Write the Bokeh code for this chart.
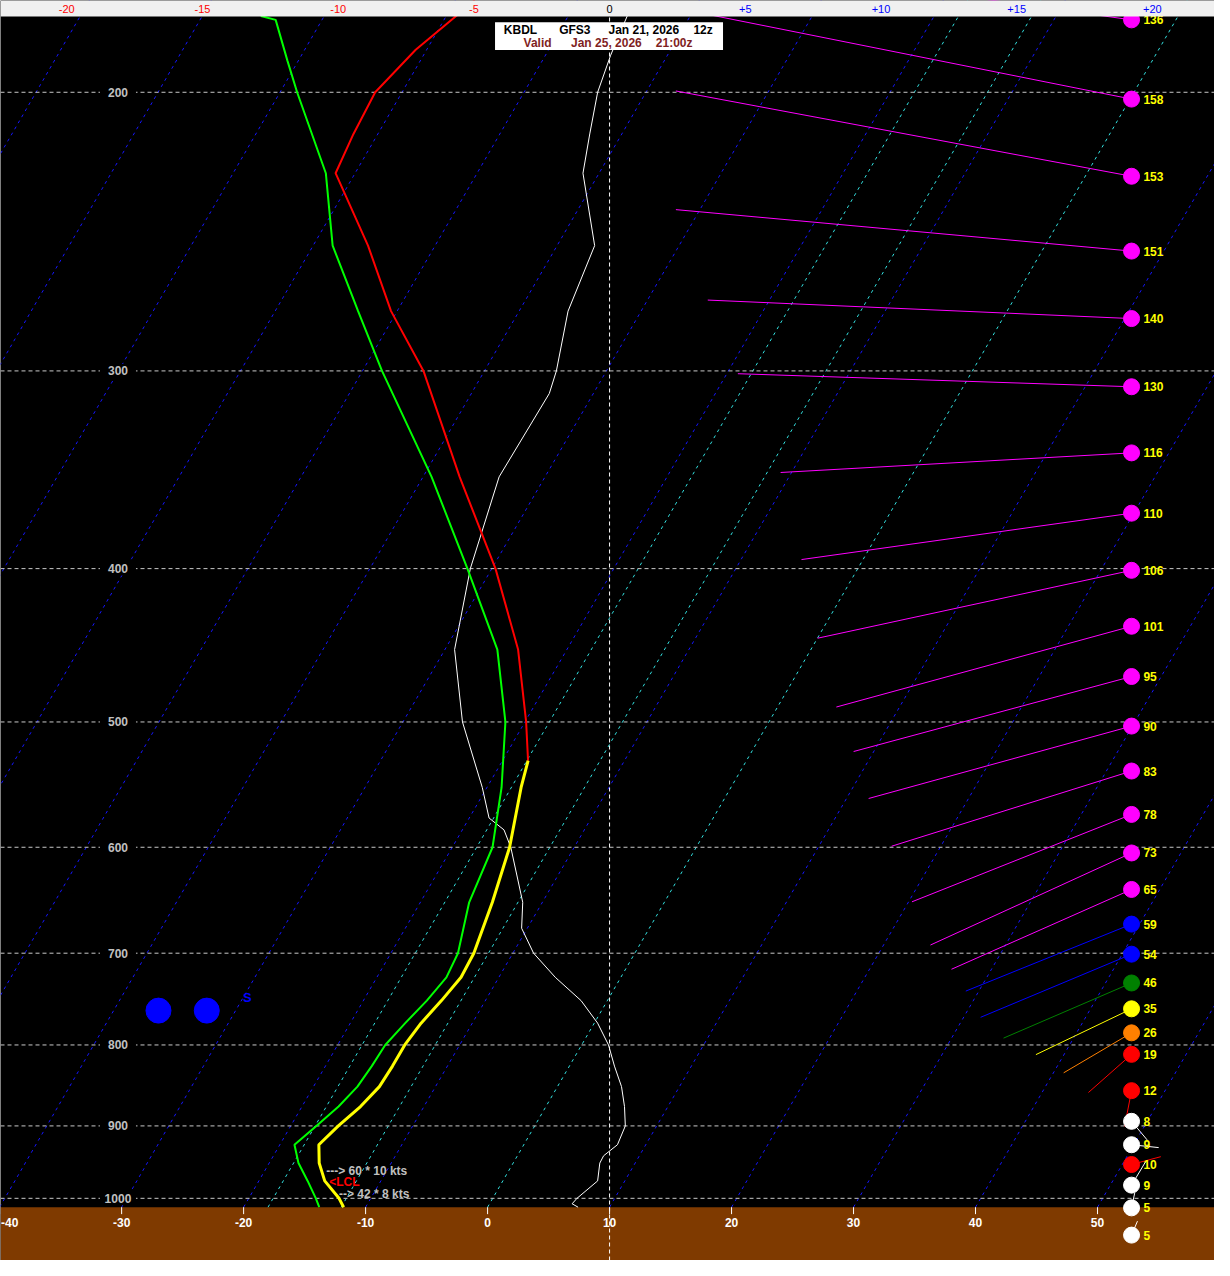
import numpy as np
from bokeh.plotting import figure
from bokeh.models import Range1d, ColumnDataSource
from bokeh.embed import file_html
from bokeh.resources import INLINE
from bokeh.core.properties import value

# ---------------- data ----------------
# temperature profile (red part, upper levels)
temp_p = [175, 188, 200, 212.5, 225, 250, 275, 300, 350, 400, 450, 500, 529]
temp_t = [-58.4, -60.9, -62.2, -62.0, -61.6, -55.5, -50.5, -45.0, -37.0, -29.7, -24.0, -19.9, -17.9]

# temperature profile (yellow part, lower levels)
low_p = [529, 550, 600, 650, 700, 725, 750, 775, 800, 825, 850, 875, 900, 925, 950, 975, 1000, 1013]
low_t = [-17.9, -17.2, -15.3, -14.1, -13.2, -13.1, -13.6, -14.2, -14.5, -14.5, -14.6, -15.2, -16.1, -16.8, -15.9, -14.6, -12.6, -11.8]

# dewpoint profile (green)
dew_p = [179, 180, 191, 200, 225, 250, 275, 300, 350, 400, 450, 500, 550, 600, 650, 700, 725, 750, 775, 800,
         825, 850, 875, 900, 925, 950, 975, 1000, 1013]
dew_t = [-75.2, -73.8, -70.9, -68.6, -62.4, -58.4, -53.2, -48.4, -39.3, -32.0, -25.7, -21.6, -18.8, -16.7, -16.0,
         -14.5, -14.3, -14.8, -15.5, -16.1, -16.2, -16.4, -17.0, -17.9, -18.8, -17.6, -16.0, -14.5, -13.8]

# white profile, in units of the top scale
wht_p = [179, 189.5, 200, 212.5, 225, 250, 275, 300, 310, 350, 400, 450, 500, 550, 575, 585, 600, 650, 675, 700,
         725, 750, 775, 800, 825, 850, 875, 900, 925, 940, 950, 975, 1000, 1008, 1013]
wht_v = [0.65, 0.04, -0.44, -0.73, -0.98, -0.55, -1.53, -1.96, -2.22, -4.07, -5.13, -5.71, -5.42, -4.69, -4.44,
         -3.89, -3.64, -3.20, -3.24, -2.80, -2.00, -1.05, -0.44, -0.04, 0.18, 0.44, 0.55, 0.58, 0.29, -0.22,
         -0.36, -0.44, -1.20, -1.38, -1.16]

# winds
wind_p = [180, 202, 226, 252, 278, 307, 338, 369, 401, 435, 468, 503, 537, 572, 605, 638, 671, 701, 731, 759,
          786, 811, 855, 894, 925, 952, 981, 1014, 1055]
wind_spd = [136, 158, 153, 151, 140, 130, 116, 110, 106, 101, 95, 90, 83, 78, 73, 65, 59, 54, 46, 35,
            26, 19, 12, 8, 9, 10, 9, 5, 5]
wind_dir = [278, 281.3, 280.6, 275.2, 272.5, 271.9, 266.8, 262.0, 257.8, 254.7, 254.9, 254.6, 252.6, 248.3,
            245.4, 246.1, 248.0, 247.3, 246.7, 244.4, 239.5, 228.5, 191, 140, 96, 75, 31, 12, 23]

pres_levels = [200, 300, 400, 500, 600, 700, 800, 900, 1000]
bottom_ticks = [-40, -30, -20, -10, 0, 10, 20, 30, 40, 50]
top_ticks = [-20, -15, -10, -5, 0, 5, 10, 15, 20]

# ---------------- geometry ----------------
SKEW = 32.66        # deg C per ln(p) unit
P0 = 1013.0
TOP_ZERO, TOP_SCALE = 10.0, 2.2249
X0, X1 = -39.93, 59.59
P_TOP, P_BOT = 175.0, 1094.7
W, H = 1214, 1260
PX_PER_KT = 3.03

def skx(t, p):
    return np.asarray(t, float) + SKEW * np.log(P0 / np.asarray(p, float))

FONT = value("Liberation Sans")

p = figure(width=W, height=H, x_range=Range1d(X0, X1), y_range=Range1d(P_BOT, P_TOP),
           y_axis_type="log", x_axis_location=None, y_axis_location=None,
           output_backend="svg", toolbar_location=None, min_border=0,
           background_fill_color="black", border_fill_color="black")
p.outline_line_color = None
p.grid.visible = False

# ground
p.quad(left=X0, right=X1, bottom=P_BOT, top=P0, fill_color="#7f3a00", line_color=None)

# isotherms
iso = list(range(-100, 60, 10)) + [-12, -18]
xs, ys, cs = [], [], []
for t in iso:
    xs.append(list(skx([t, t], [P0, P_TOP])))
    ys.append([P0, P_TOP])
    cs.append("#33e0e0" if t in (0, -12, -18) else "#1515ff")
p.multi_line(xs, ys, line_color=cs, line_width=1, line_dash="3 4")

# pressure lines
for pl in pres_levels:
    p.line([X0, X1], [pl, pl], line_color="#c8c8c8", line_width=1, line_dash="4 3")

# vertical reference line (top-scale zero)
p.line([TOP_ZERO, TOP_ZERO], [P_BOT, P_TOP], line_color="white", line_width=1, line_dash="4 3")

# pressure labels
lab_x = [-30.3] * len(pres_levels)
p.rect(lab_x, pres_levels, width=36, height=14, width_units="screen", height_units="screen",
       fill_color="black", line_color=None)
p.text(lab_x, pres_levels, text=[str(v) for v in pres_levels], text_font=FONT, text_font_style="bold",
       text_font_size="12px", text_color="#c0c0c0", text_align="center", text_baseline="middle")

# profiles
p.line(TOP_ZERO + TOP_SCALE * np.array(wht_v), wht_p, line_color="white", line_width=1)
p.line(skx(dew_t, dew_p), dew_p, line_color="#00ff00", line_width=2)
p.line(skx(temp_t, temp_p), temp_p, line_color="#ff0000", line_width=2)
p.line(skx(low_t, low_p), low_p, line_color="#ffff00", line_width=3)

# winds
def wcolor(s):
    if s >= 65: return "#ff00ff"
    if s >= 54: return "#0000ff"
    if s >= 46: return "#008000"
    if s >= 35: return "#ffff00"
    if s >= 26: return "#ff8000"
    if s >= 10: return "#ff0000"
    return "#ffffff"

WX = 52.79
wsrc = ColumnDataSource(dict(
    x=[WX] * len(wind_p), y=wind_p,
    length=[s * PX_PER_KT for s in wind_spd],
    angle=[np.pi / 2 - np.radians(d) for d in wind_dir],
    color=[wcolor(s) for s in wind_spd],
    lx=[WX + 0.97] * len(wind_p),
    lab=[str(s) for s in wind_spd]))
p.ray(x="x", y="y", length="length", angle="angle", length_units="screen",
      line_color="color", line_width=1, source=wsrc)
p.scatter(x="x", y="y", size=16, fill_color="color", line_color="color", source=wsrc)
p.text(x="lx", y="y", text="lab", source=wsrc, text_font=FONT, text_font_style="bold",
       text_font_size="12px", text_color="#ffff00", text_align="left", text_baseline="middle")

# precip markers
p.scatter([-26.98, -23.02], [761, 761], size=25, fill_color="#0000ff", line_color="#0000ff")
p.text([-19.70], [747], text=["S"], text_font=FONT, text_font_style="bold", text_font_size="13px",
       text_color="#0000ff", text_align="center", text_baseline="middle")

# LCL and surface wind notes
p.text([-12.99], [977], text=["<LCL"], text_font=FONT, text_font_style="bold", text_font_size="12px",
       text_color="#ff0000", text_align="left", text_baseline="middle")
p.text([-13.23, -12.18], [960.6, 994.3], text=["--->  60 * 10 kts", "-->  42 * 8 kts"], text_font=FONT,
       text_font_style="bold", text_font_size="12px", text_color="#c0c0c0", text_align="left",
       text_baseline="middle")

# bottom scale
p.segment(x0=bottom_ticks, y0=[P0] * len(bottom_ticks), x1=bottom_ticks, y1=[1023.3] * len(bottom_ticks),
          line_color="white", line_width=1)
blab_x = [max(v, X0 + 0.05) for v in bottom_ticks]
blab_align = ["left" if v - X0 < 1.0 else "center" for v in bottom_ticks]
p.text(blab_x, [1035.1] * len(bottom_ticks), text=[str(v) for v in bottom_ticks], text_font=FONT,
       text_font_style="bold", text_font_size="12px", text_color="white", text_align=blab_align,
       text_baseline="middle")

# top strip
p.quad(left=X0, right=X1, bottom=179.1, top=P_TOP, fill_color="#f0f0f0", line_color=None)
tx = [TOP_ZERO + TOP_SCALE * v for v in top_ticks]
tlab = [("+%d" % v) if v > 0 else str(v) for v in top_ticks]
tcol = ["#ff0000" if v < 0 else ("#0000ff" if v > 0 else "#000000") for v in top_ticks]
p.text(tx, [177.1] * len(tx), text=tlab, text_color=tcol, text_font=FONT, text_font_size="11px",
       text_align="center", text_baseline="middle")

# info box
p.quad(left=0.61, right=19.30, bottom=188.1, top=180.6, fill_color="white", line_color=None)
p.text([1.335, 5.87, 9.91, 16.87], [182.7] * 4, text=["KBDL", "GFS3", "Jan 21, 2026", "12z"],
       text_font=FONT, text_font_style="bold", text_font_size="12px", text_color="black",
       text_align="left", text_baseline="middle")
p.text([2.95, 6.84, 13.79], [186.1] * 3, text=["Valid", "Jan 25, 2026", "21:00z"],
       text_font=FONT, text_font_style="bold", text_font_size="12px", text_color="#7f1f1f",
       text_align="left", text_baseline="middle")

open("out.html", "w").write(file_html(p, INLINE))
